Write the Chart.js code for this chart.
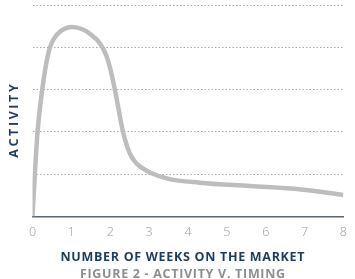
<!DOCTYPE html>
<html>
<head>
<meta charset="utf-8">
<script src="https://cdn.jsdelivr.net/npm/chart.js@4.4.0/dist/chart.umd.min.js"></script>
<style>
  html, body { margin: 0; padding: 0; background: #fff; }
  #wrap { width: 355px; height: 279px; }
</style>
</head>
<body>
<div id="wrap"><canvas id="activityChart"></canvas></div>
<script>
// Figure 2 - activity v. timing
const weeks    = [0, 0.06, 0.13, 0.25, 0.35, 0.45, 0.55, 0.75, 1.02, 1.3, 1.5, 1.74, 1.9, 2.0, 2.12, 2.33, 2.5, 2.65, 2.8, 3.02, 3.5, 4.3, 5.6, 6.9, 8];
const activity = [0, 1.0, 2.0, 3.0, 3.6, 4.0, 4.2, 4.4, 4.48, 4.42, 4.3, 4.09, 3.8, 3.5, 3.0, 2.0, 1.5, 1.28, 1.16, 1.04, 0.89, 0.80, 0.72, 0.64, 0.51];
const xTicks = [0, 1, 2, 3, 4, 5, 6, 7, 8];
const yGrid  = [0, 1, 2, 3, 4, 5];

const navy = '#1c3b5f';
const grey = '#8e8e8e';

// axis titles + caption drawn by hand so they can be letter-spaced like the original
function spacedText(c, text, x, y, color, spacing, angle) {
    c.save();
    c.translate(x, y);
    if (angle) c.rotate(angle);
    c.font = 'bold 12.5px "Open Sans"';
    c.letterSpacing = spacing + 'px';
    c.fillStyle = color;
    c.textAlign = 'center';
    c.textBaseline = 'middle';
    c.fillText(text, spacing / 2, 0);
    c.restore();
}

const labels = {
    id: 'labels',
    afterDraw(chart) {
        const c = chart.ctx;
        spacedText(c, 'ACTIVITY', 14.5, 121, navy, 2.6, -Math.PI / 2);
        spacedText(c, 'NUMBER OF WEEKS ON THE MARKET', 182.5, 257, navy, 0.7);
        spacedText(c, 'FIGURE 2 - ACTIVITY V. TIMING', 182.5, 274, grey, 0.7);
    }
};

const ctx = document.getElementById('activityChart').getContext('2d');
const activityChart = new Chart(ctx, {
    type: 'line',
    data: {
        datasets: [{
            data: weeks.map((w, i) => ({ x: w, y: activity[i] })),
            borderColor: '#bdbdbd',
            borderWidth: 4.5,
            pointRadius: 0,
            cubicInterpolationMode: 'monotone',
            fill: false
        }]
    },
    options: {
        responsive: true,
        maintainAspectRatio: false,
        animation: false,
        layout: { padding: { left: 32.5, right: 11, top: 5, bottom: 31.5 } },
        plugins: {
            legend: { display: false },
            tooltip: { enabled: false }
        },
        scales: {
            x: {
                type: 'linear',
                min: xTicks[0],
                max: xTicks[xTicks.length - 1],
                afterBuildTicks: axis => { axis.ticks = xTicks.map(v => ({ value: v })); },
                grid: { display: false, drawTicks: false },
                border: { display: true, color: '#5d6670', width: 1.5 },
                ticks: {
                    color: '#9b9b9b',
                    font: { family: 'Open Sans', size: 12.5, weight: 300 },
                    padding: 8,
                    maxRotation: 0
                }
            },
            y: {
                min: yGrid[0],
                max: yGrid[yGrid.length - 1],
                afterBuildTicks: axis => { axis.ticks = yGrid.map(v => ({ value: v })); },
                ticks: { display: false },
                grid: {
                    drawTicks: false,
                    lineWidth: 1,
                    color: c => (c.tick && c.tick.value === 0) ? 'rgba(0,0,0,0)' : '#a9a9a9'
                },
                border: { display: false, dash: [1.5, 2] }
            }
        }
    },
    plugins: [labels]
});
</script>
</body>
</html>
